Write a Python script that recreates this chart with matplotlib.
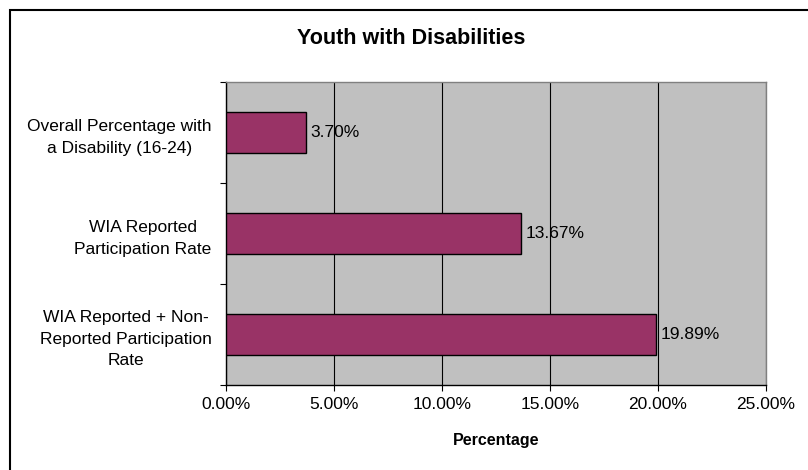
import matplotlib.pyplot as plt
import matplotlib.patches as patches
from matplotlib.ticker import FuncFormatter, FixedLocator

plt.rcParams['font.family'] = ['Liberation Sans', 'DejaVu Sans']

# Data
categories = [
    "Overall Percentage with\na Disability (16-24)",
    "WIA Reported\nParticipation Rate",
    "WIA Reported + Non-\nReported Participation\nRate",
]
rates = [3.70, 13.67, 19.89]
x_ticks = [0, 5, 10, 15, 20, 25]

LABEL_SIZE = 12.5

fig = plt.figure(figsize=(8.08, 4.70), dpi=100)
ax = fig.add_axes([226 / 808, 85 / 470, 540 / 808, 303 / 470])

ax.set_facecolor('#C0C0C0')
pos = list(range(len(categories)))
ax.barh(pos, rates, height=0.4, color='#993366', edgecolor='black', linewidth=1.0, zorder=3)

for p, v in zip(pos, rates):
    ax.text(v + 0.22, p, f"{v:.2f}%", va='center', ha='left', fontsize=LABEL_SIZE, zorder=4)

ax.set_xlim(0, 25)
ax.set_ylim(len(categories) - 0.5, -0.5)

ax.xaxis.set_major_locator(FixedLocator(x_ticks))
ax.xaxis.set_major_formatter(FuncFormatter(lambda v, _: f"{v:.2f}%"))
ax.grid(axis='x', color='black', linewidth=0.8, zorder=1)
ax.set_axisbelow(True)

# category labels sit between band ticks
ax.set_yticks(pos)
ax.set_yticklabels(categories, fontsize=LABEL_SIZE, ha='right', multialignment='center', linespacing=1.55)
ax.tick_params(axis='y', which='major', length=0, pad=10.5)
ax.set_yticks([-0.5, 0.5, 1.5, 2.5], minor=True)
ax.tick_params(axis='y', which='minor', length=4.5, width=0.8, direction='out')
ax.tick_params(axis='x', length=4.5, width=0.8, direction='out', labelsize=LABEL_SIZE, pad=4)

for side in ['left', 'bottom']:
    ax.spines[side].set_color('black')
    ax.spines[side].set_linewidth(1.0)
for side in ['top', 'right']:
    ax.spines[side].set_color('#808080')
    ax.spines[side].set_linewidth(1.0)

ax.set_xlabel("Percentage", fontsize=11.5, fontweight='bold', labelpad=15)
fig.text(411 / 808, 1 - 38 / 470, "Youth with Disabilities", ha='center', va='center',
         fontsize=15.5, fontweight='bold')

# chart frame
fig.patches.append(patches.Rectangle((9.5 / 808, -0.1), 1.2, 1 - 9.5 / 470 + 0.1,
                                     transform=fig.transFigure, fill=False,
                                     edgecolor='black', linewidth=1.5))

fig.savefig("out.png", dpi=100)
